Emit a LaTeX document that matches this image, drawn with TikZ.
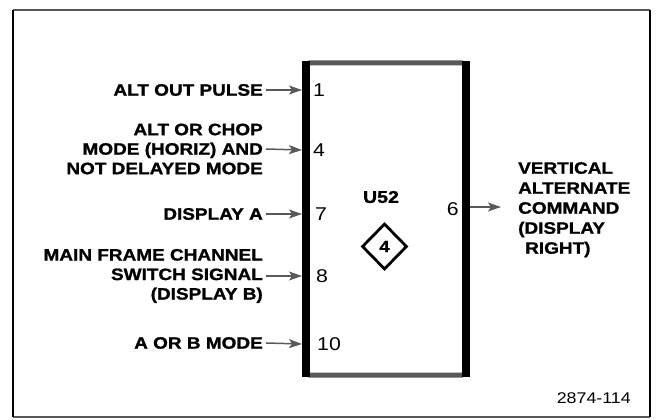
\documentclass[tikz,border=0pt]{standalone}
\usepackage{fontspec}
\setsansfont[FakeStretch=1.15,BoldFeatures={FakeBold=1.2}]{Liberation Sans}
\usetikzlibrary{arrows.meta,shapes.geometric}
\definecolor{dith}{gray}{0.35}
\tikzset{
  lbl/.style={font=\sffamily\bfseries\fontsize{16.5}{19.5}\selectfont, inner sep=0pt, align=right, anchor=east},
  rlbl/.style={font=\sffamily\bfseries\fontsize{16.5}{20}\selectfont, inner sep=0pt, align=left, anchor=north west},
  pin/.style={font=\sffamily\fontsize{18.5}{18.5}\selectfont, inner sep=0pt},
  sig/.style={draw=dith, line width=1.5pt, -{Stealth[length=13pt,width=9pt,inset=3pt]}},
}
\begin{document}
\begin{tikzpicture}[x=1pt,y=-1pt]
\useasboundingbox (0,0) rectangle (657,420);
% outer frame
\draw[dith, line width=1.2pt] (13,10) -- (650,10);
\draw[dith, line width=1.2pt] (13,417) -- (650,417);
\draw[black, line width=2pt] (13,10) -- (13,417);
\draw[black, line width=2pt] (650,10) -- (650,417);
% block
\draw[dith, line width=5pt, rounded corners=4pt] (305.5,63) rectangle (466,375);
\draw[black, line width=8pt] (305.5,61) -- (305.5,377);
\draw[black, line width=8pt] (466,61) -- (466,377);
\coordinate (bl1) at (302,90);
\coordinate (bl4) at (302,150);
\coordinate (bl7) at (302,214);
\coordinate (bl8) at (302,276);
\coordinate (bl10) at (302,344);
\coordinate (br6) at (470,207);
% labels
\node[lbl] (l1) at (263,90) {ALT OUT PULSE};
\node[lbl] (l4) at (263,149) {ALT OR CHOP\\MODE (HORIZ) AND\\NOT DELAYED MODE};
\node[lbl] (l7) at (263,214) {DISPLAY A};
\node[lbl] (l8) at (263,276) {MAIN FRAME CHANNEL\\SWITCH SIGNAL\\(DISPLAY B)};
\node[lbl] (l10) at (263,343) {A OR B MODE};
\node[rlbl] (out) at (518,162) {VERTICAL\\ALTERNATE\\COMMAND\\(DISPLAY\\\hspace*{7pt}RIGHT)};
\coordinate (outin) at (501,207);
% arrows
\draw[sig] ([xshift=3pt]l1.east) -- (bl1);
\draw[sig] ([xshift=3pt]l4.east) -- (bl4);
\draw[sig] ([xshift=3pt]l7.east) -- (bl7);
\draw[sig] ([xshift=3pt]l8.east) -- (bl8);
\draw[sig] ([xshift=3pt]l10.east) -- (bl10);
\draw[sig] (br6) -- (outin);
% pins
\node[pin, anchor=west] (p1) at (313,90) {1};
\node[pin, anchor=west] (p4) at (313,150) {4};
\node[pin, anchor=west] (p7) at (315,214) {7};
\node[pin, anchor=west] (p8) at (316,276) {8};
\node[pin, anchor=west] (p10) at (317,344) {10};
\node[pin, anchor=east] (p6) at (459,209) {6};
% center
\node[font=\sffamily\bfseries\fontsize{17}{17}\selectfont, inner sep=0pt] (u52) at (381,197) {U52};
\node[diamond, draw, line width=2.8pt, minimum width=45pt, minimum height=46pt, inner sep=0pt,
      font=\sffamily\bfseries\fontsize{16}{16}\selectfont] (dia) at (384.5,246.5) {4};
\node[font=\sffamily\fontsize{15.5}{15.5}\selectfont, inner sep=0pt, anchor=east] (fig) at (631,398) {2874-114};
\end{tikzpicture}
\end{document}
